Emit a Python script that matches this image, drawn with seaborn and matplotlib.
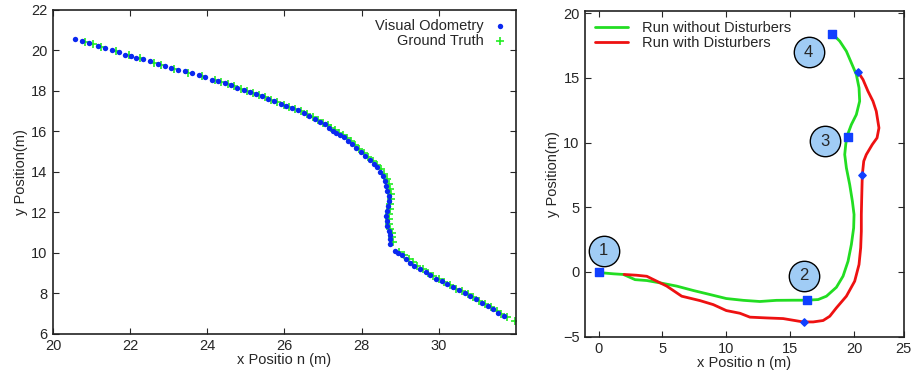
import matplotlib
matplotlib.use("Agg")
from matplotlib import pyplot as plt
import pandas as pd
import seaborn as sns

# levy graf - visual odometry vs ground truth
vo_x = [20.56, 20.75, 20.93, 21.17, 21.35, 21.53, 21.72, 21.88, 22.02, 22.16, 22.33, 22.52,
        22.72, 22.90, 23.07, 23.24, 23.42, 23.60, 23.78, 23.95, 24.12, 24.28, 24.45, 24.62,
        24.78, 24.95, 25.10, 25.26, 25.42, 25.58, 25.74, 25.90, 26.05, 26.20, 26.35, 26.50,
        26.65, 26.80, 26.93, 27.05, 27.15, 27.25, 27.35, 27.45, 27.55, 27.65, 27.75, 27.85,
        27.98, 28.10, 28.22, 28.32, 28.40, 28.48, 28.55, 28.60, 28.63, 28.67, 28.70, 28.70,
        28.69, 28.66, 28.64, 28.65, 28.67, 28.70, 28.73, 28.75, 28.74, 28.88, 28.95, 29.05,
        29.15, 29.26, 29.36, 29.52, 29.66, 29.78, 29.93, 30.08, 30.22, 30.38, 30.52, 30.68,
        30.82, 30.98, 31.12, 31.28, 31.42, 31.55, 31.69]
vo_y = [20.55, 20.47, 20.36, 20.22, 20.13, 20.03, 19.93, 19.78, 19.73, 19.64, 19.56, 19.45,
        19.34, 19.24, 19.14, 19.04, 18.96, 18.86, 18.77, 18.66, 18.56, 18.47, 18.37, 18.27,
        18.16, 18.03, 17.94, 17.84, 17.73, 17.62, 17.50, 17.37, 17.26, 17.16, 17.06, 16.93,
        16.77, 16.60, 16.46, 16.34, 16.18, 16.00, 15.92, 15.83, 15.70, 15.52, 15.36, 15.18,
        15.00, 14.80, 14.58, 14.40, 14.22, 14.00, 13.80, 13.55, 13.30, 13.05, 12.80, 12.55,
        12.30, 12.05, 11.80, 11.55, 11.32, 11.10, 10.90, 10.70, 10.45, 10.10, 10.00, 9.88,
        9.72, 9.50, 9.35, 9.20, 9.05, 8.90, 8.73, 8.60, 8.45, 8.30, 8.15, 8.02,
        7.88, 7.70, 7.55, 7.38, 7.22, 7.05, 6.89]

gt_x = [20.84, 21.05, 21.25, 21.63, 21.97, 22.25, 22.62, 22.81, 23.15, 23.51, 23.86, 24.20,
        24.36, 24.54, 24.70, 24.87, 25.03, 25.18, 25.34, 25.50, 25.66, 25.82, 25.98, 26.13,
        26.28, 26.43, 26.58, 26.73, 26.88, 27.00, 27.12, 27.22, 27.32, 27.42, 27.52, 27.62,
        27.72, 27.82, 27.93, 28.06, 28.18, 28.30, 28.40, 28.50, 28.58, 28.65, 28.70, 28.74,
        28.76, 28.76, 28.75, 28.73, 28.71, 28.71, 28.72, 28.75, 28.78, 28.80, 28.82, 28.98,
        29.10, 29.22, 29.33, 29.45, 29.60, 29.72, 29.86, 30.00, 30.15, 30.30, 30.45, 30.60,
        30.75, 30.90, 31.05, 31.20, 31.35, 31.50, 31.62, 31.78, 31.98]
gt_y = [20.42, 20.30, 20.17, 19.98, 19.76, 19.61, 19.40, 19.29, 19.10, 18.90, 18.72, 18.52,
        18.42, 18.32, 18.22, 18.10, 17.99, 17.89, 17.79, 17.68, 17.56, 17.44, 17.31, 17.22,
        17.12, 17.01, 16.87, 16.70, 16.55, 16.42, 16.30, 16.16, 16.06, 15.93, 15.80, 15.66,
        15.50, 15.33, 15.14, 14.93, 14.72, 14.52, 14.34, 14.12, 13.90, 13.65, 13.40, 13.15,
        12.90, 12.65, 12.40, 12.15, 11.90, 11.65, 11.42, 11.20, 11.00, 10.78, 10.55, 10.05,
        9.90, 9.72, 9.55, 9.35, 9.18, 9.02, 8.86, 8.70, 8.55, 8.40, 8.24, 8.10,
        7.96, 7.80, 7.64, 7.48, 7.32, 7.14, 6.98, 6.84, 6.64]

# pravy graf - jizda bez rusivych vlivu / s nimi
green_x = [0.0, 1.17, 1.95, 2.86, 3.78, 4.82, 6.12, 7.42, 8.72, 10.0, 11.33, 12.63, 13.93,
           15.23, 16.28, 17.19, 17.84, 18.62, 19.14, 19.53, 19.79, 19.97, 20.0, 19.87, 19.66,
           19.40, 19.27, 19.35, 19.45, 19.79, 20.18, 20.44, 20.39, 20.18, 19.79, 19.40, 18.88,
           18.49, 18.23]
green_y = [-0.05, -0.15, -0.2, -0.6, -0.67, -0.85, -1.1, -1.44, -1.75, -2.06, -2.2, -2.29, -2.2,
           -2.19, -2.19, -2.14, -1.88, -1.19, -0.33, 0.82, 2.11, 3.4, 4.43, 5.46, 6.75,
           8.04, 9.07, 9.85, 10.49, 11.39, 12.16, 13.2, 14.23, 15.26, 16.16, 17.06, 17.84,
           18.22, 18.4]
red_x = [2.0, 2.99, 3.78, 4.56, 5.34, 6.51, 7.94, 8.98, 10.0, 11.07, 11.85, 13.15, 14.45,
         16.02, 16.8, 17.58, 18.1, 18.62, 19.40, 20.05, 20.39, 20.52, 20.57, 20.57, 20.6,
         20.63, 20.65, 20.76, 20.96, 21.43, 21.80, 21.95, 21.74, 21.48, 21.09, 20.70, 20.31]
red_y = [-0.2, -0.26, -0.34, -0.72, -1.1, -1.88, -2.22, -2.53, -2.99, -3.2, -3.5, -3.56, -3.61,
         -3.87, -3.87, -3.76, -3.43, -2.78, -1.88, -0.72, 0.57, 1.86, 3.14, 4.43, 5.72,
         6.88, 7.53, 8.56, 9.07, 9.85, 10.36, 11.13, 12.42, 13.2, 13.97, 14.87, 15.46]

square_x = [0.0, 16.3, 19.5, 18.3]
square_y = [0.0, -2.2, 10.4, 18.4]
dot_x = [16.1, 20.65, 20.3]
dot_y = [-3.87, 7.5, 15.46]

circle_labels = ["1", "2", "3", "4"]
circle_x = [0.4, 16.05, 17.75, 16.45]
circle_y = [1.65, -0.3, 10.1, 17.0]

sns.set_style("ticks")
plt.rcParams["font.family"] = ["Liberation Sans", "DejaVu Sans"]
plt.rcParams["font.size"] = 10.5

fig = plt.figure(figsize=(9.13, 3.79), dpi=100)
ax1 = fig.add_axes([0.058, 0.119, 0.507, 0.855])
ax2 = fig.add_axes([0.641, 0.112, 0.349, 0.860])

# levy graf
vo = pd.DataFrame({"x": vo_x, "y": vo_y})
gt = pd.DataFrame({"x": gt_x, "y": gt_y})
sns.scatterplot(data=gt, x="x", y="y", ax=ax1, marker="+", color="#22ee22", s=28,
                linewidth=1.2, label="Ground Truth", zorder=2)
sns.scatterplot(data=vo, x="x", y="y", ax=ax1, marker="o", color="#0a28f0", s=15,
                linewidth=0, label="Visual Odometry", zorder=3)
ax1.set_xlim(20, 32)
ax1.set_ylim(6, 22)
ax1.set_xticks([20, 22, 24, 26, 28, 30])
ax1.set_yticks([6, 8, 10, 12, 14, 16, 18, 20, 22])
ax1.set_xlabel("x Positio n (m)", labelpad=0)
ax1.set_ylabel("y Position(m)", labelpad=2)
h, l = ax1.get_legend_handles_labels()
ax1.legend(h[::-1], l[::-1], loc="upper right", frameon=False, markerfirst=False,
           handlelength=1.0, handletextpad=0.6, borderaxespad=0.2, labelspacing=0.1)

# pravy graf
green = pd.DataFrame({"x": green_x, "y": green_y})
red = pd.DataFrame({"x": red_x, "y": red_y})
sns.lineplot(data=green, x="x", y="y", ax=ax2, sort=False, estimator=None,
             color="#22dd22", linewidth=2.0, label="Run without Disturbers")
sns.lineplot(data=red, x="x", y="y", ax=ax2, sort=False, estimator=None,
             color="#ee1111", linewidth=2.0, label="Run with Disturbers")
ax2.scatter(square_x, square_y, marker="s", s=30, color="#1040ff", zorder=4)
ax2.scatter(dot_x, dot_y, marker="D", s=14, color="#1040ff", zorder=4)
ax2.scatter(circle_x, circle_y, s=480, color="#a0ccf5", edgecolor="black",
            linewidth=1.0, zorder=5)
for t, cx, cy in zip(circle_labels, circle_x, circle_y):
    ax2.text(cx, cy, t, ha="center", va="center", fontsize=12, zorder=6)
ax2.set_xlim(-1.04, 23.9)
ax2.set_ylim(-5, 20.2)
ax2.set_xticks([0, 5, 10, 15, 20, 23.9])
ax2.set_xticklabels(["0", "5", "10", "15", "20", "25"])
ax2.set_yticks([-5, 0, 5, 10, 15, 20])
ax2.set_xlabel("x Positio n (m)", labelpad=0)
ax2.set_ylabel("y Position(m)", labelpad=2)
ax2.legend(loc="upper left", frameon=False, handlelength=2.2, handletextpad=1.0,
           borderaxespad=0.3, labelspacing=0.1)

for ax in (ax1, ax2):
    ax.tick_params(direction="in", top=True, right=True, length=4, width=0.8, pad=4)
    for s in ax.spines.values():
        s.set_linewidth(1.2)
        s.set_color("#222222")

fig.savefig("out.png", dpi=100)
